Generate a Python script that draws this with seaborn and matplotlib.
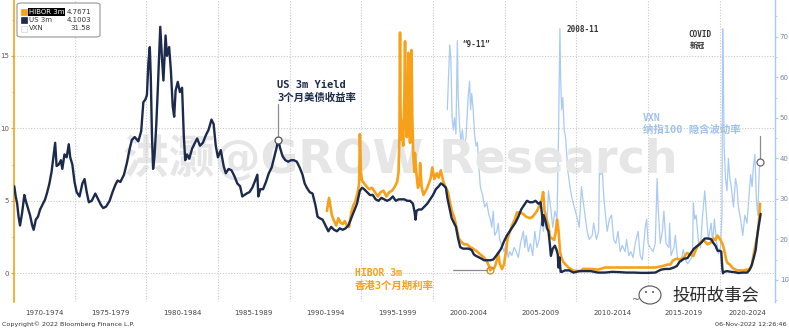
import numpy as np
import pandas as pd
import matplotlib
matplotlib.use("Agg")
import matplotlib.pyplot as plt
import seaborn as sns
from matplotlib.patches import FancyBboxPatch, Rectangle, Ellipse
from matplotlib.ticker import FixedLocator, MultipleLocator, NullFormatter

# ---------------- data ----------------
us_t = [1970.80, 1970.90, 1971.00, 1971.10, 1971.20, 1971.35, 1971.50, 1971.60, 1971.75, 1971.90,
        1972.05, 1972.15, 1972.30, 1972.45, 1972.60, 1972.75, 1972.95, 1973.10, 1973.25, 1973.40,
        1973.55, 1973.65, 1973.75, 1973.90, 1974.05, 1974.15, 1974.30, 1974.45, 1974.60, 1974.70,
        1974.85, 1975.00, 1975.15, 1975.35, 1975.55, 1975.70, 1975.85, 1976.00, 1976.20, 1976.45,
        1976.65, 1976.85, 1977.00, 1977.20, 1977.45, 1977.65, 1977.85, 1978.00, 1978.20, 1978.45,
        1978.65, 1978.85, 1979.00, 1979.20, 1979.45, 1979.65, 1979.80, 1979.95, 1980.05, 1980.15,
        1980.25, 1980.32, 1980.40, 1980.48, 1980.58, 1980.70, 1980.80, 1980.90, 1980.98, 1981.10,
        1981.20, 1981.35, 1981.45, 1981.60, 1981.72, 1981.85, 1981.95, 1982.05, 1982.20, 1982.35,
        1982.50, 1982.62, 1982.72, 1982.85, 1983.00, 1983.20, 1983.40, 1983.55, 1983.75, 1983.95,
        1984.15, 1984.35, 1984.55, 1984.70, 1984.85, 1985.00, 1985.20, 1985.40, 1985.55, 1985.75,
        1985.95, 1986.15, 1986.35, 1986.55, 1986.70, 1986.85, 1987.00, 1987.20, 1987.40, 1987.60,
        1987.75, 1987.82, 1987.95, 1988.15, 1988.35, 1988.55, 1988.75, 1988.95, 1989.10, 1989.20,
        1989.35, 1989.50, 1989.70, 1989.90, 1990.10, 1990.30, 1990.50, 1990.70, 1990.90, 1991.05,
        1991.20, 1991.40, 1991.60, 1991.80, 1991.95, 1992.10, 1992.30, 1992.50, 1992.70, 1992.90,
        1993.10, 1993.30, 1993.50, 1993.70, 1993.90, 1994.10, 1994.30, 1994.50, 1994.70, 1994.90,
        1995.05, 1995.20, 1995.40, 1995.60, 1995.80, 1996.00, 1996.20, 1996.40, 1996.60, 1996.80,
        1997.00, 1997.20, 1997.40, 1997.60, 1997.80, 1998.00, 1998.20, 1998.40, 1998.60, 1998.72,
        1998.78, 1998.85, 1999.00, 1999.20, 1999.40, 1999.60, 1999.80, 2000.00, 2000.20, 2000.40,
        2000.55, 2000.70, 2000.90, 2001.00, 2001.15, 2001.30, 2001.45, 2001.60, 2001.75, 2001.90,
        2002.10, 2002.30, 2002.50, 2002.70, 2002.85, 2003.00, 2003.20, 2003.40, 2003.55, 2003.75,
        2004.00, 2004.20, 2004.40, 2004.55, 2004.75, 2004.95, 2005.15, 2005.35, 2005.55, 2005.75,
        2005.95, 2006.15, 2006.35, 2006.55, 2006.75, 2006.95, 2007.15, 2007.35, 2007.50, 2007.60,
        2007.65, 2007.72, 2007.85, 2007.95, 2008.05, 2008.15, 2008.22, 2008.35, 2008.50, 2008.62,
        2008.70, 2008.75, 2008.82, 2008.90, 2009.00, 2009.20, 2009.50, 2009.80, 2010.20, 2010.60,
        2011.00, 2011.50, 2012.00, 2012.50, 2013.00, 2013.50, 2014.00, 2014.50, 2015.00, 2015.50,
        2015.90, 2016.20, 2016.50, 2016.80, 2017.00, 2017.20, 2017.50, 2017.75, 2017.95, 2018.20,
        2018.45, 2018.70, 2018.95, 2019.20, 2019.40, 2019.55, 2019.70, 2019.85, 2020.00, 2020.10,
        2020.18, 2020.22, 2020.30, 2020.50, 2020.80, 2021.00, 2021.30, 2021.60, 2021.90, 2022.05,
        2022.20, 2022.35, 2022.50, 2022.60, 2022.70, 2022.85]
us_v = [6.0, 5.3, 4.8, 3.9, 3.3, 4.2, 5.4, 5.0, 4.5, 4.0,
        3.3, 3.0, 3.7, 3.9, 4.4, 4.7, 5.1, 5.6, 6.2, 7.0,
        8.2, 9.0, 7.4, 7.5, 7.8, 7.2, 8.2, 8.0, 8.9, 8.0,
        7.5, 6.3, 5.6, 5.3, 6.2, 6.5, 5.6, 4.9, 5.0, 5.5,
        5.1, 4.7, 4.5, 4.6, 5.0, 5.6, 6.1, 6.4, 6.3, 6.8,
        7.6, 8.6, 9.2, 9.4, 9.1, 9.8, 11.8, 12.0, 12.3, 14.5,
        15.6, 13.5, 9.5, 7.2, 8.1, 10.2, 12.5, 15.0, 17.0, 14.8,
        13.3, 16.4, 15.0, 15.6, 14.0, 11.5, 10.8, 12.6, 13.2, 12.5,
        12.8, 9.5, 7.8, 8.2, 7.9, 8.6, 9.0, 9.3, 8.8, 9.0,
        9.5, 9.9, 10.6, 10.3, 8.8, 8.0, 8.5, 7.4, 6.9, 7.2,
        7.1, 6.7, 6.2, 6.0, 5.3, 5.4, 5.5, 5.6, 5.9, 6.4,
        6.8, 5.3, 5.8, 5.8, 6.3, 6.9, 7.3, 8.1, 8.7, 9.2,
        8.6, 8.1, 7.8, 7.7, 7.8, 7.8, 7.7, 7.3, 6.8, 6.2,
        5.9, 5.6, 5.5, 4.7, 3.9, 3.8, 3.7, 3.3, 2.9, 3.2,
        3.0, 2.9, 3.1, 3.0, 3.1, 3.3, 3.8, 4.3, 4.8, 5.7,
        5.9, 5.8, 5.6, 5.4, 5.4, 5.1, 5.0, 5.2, 5.1, 5.0,
        5.1, 5.3, 5.0, 5.1, 5.1, 5.1, 5.0, 5.0, 4.8, 4.2,
        3.7, 4.3, 4.4, 4.4, 4.6, 4.8, 5.1, 5.4, 5.8, 6.0,
        6.2, 6.1, 5.9, 5.2, 4.5, 3.8, 3.5, 3.2, 2.4, 1.8,
        1.7, 1.7, 1.7, 1.6, 1.3, 1.2, 1.1, 1.0, 0.9, 0.9,
        0.9, 0.95, 1.2, 1.4, 1.7, 2.2, 2.6, 2.9, 3.2, 3.5,
        3.9, 4.4, 4.7, 5.0, 4.9, 4.9, 5.0, 4.8, 4.9, 4.1,
        3.3, 4.0, 3.6, 3.1, 2.9, 2.0, 1.2, 1.7, 1.9, 1.6,
        1.3, 0.4, 1.1, 0.1, 0.1, 0.2, 0.2, 0.05, 0.15, 0.15,
        0.15, 0.05, 0.05, 0.1, 0.08, 0.05, 0.05, 0.03, 0.03, 0.05,
        0.25, 0.3, 0.3, 0.4, 0.5, 0.8, 1.0, 1.05, 1.35, 1.7,
        1.9, 2.1, 2.4, 2.4, 2.35, 2.1, 1.9, 1.55, 1.55, 1.5,
        0.3, 0.0, 0.1, 0.15, 0.1, 0.08, 0.02, 0.05, 0.05, 0.2,
        0.5, 1.0, 1.6, 2.5, 3.2, 4.1]

hib_t = [1992.60, 1992.75, 1992.85, 1992.95, 1993.10, 1993.25, 1993.40, 1993.55, 1993.70, 1993.85,
         1994.00, 1994.15, 1994.30, 1994.45, 1994.60, 1994.75, 1994.85, 1994.90, 1994.97, 1995.05,
         1995.20, 1995.35, 1995.55, 1995.75, 1995.95, 1996.15, 1996.35, 1996.55, 1996.75, 1996.95,
         1997.15, 1997.35, 1997.50, 1997.60, 1997.66, 1997.70, 1997.74, 1997.80, 1997.85, 1997.92,
         1998.00, 1998.05, 1998.10, 1998.17, 1998.24, 1998.28, 1998.33, 1998.40, 1998.45, 1998.50,
         1998.55, 1998.62, 1998.70, 1998.74, 1998.85, 1998.95, 1999.05, 1999.10, 1999.20, 1999.33,
         1999.45, 1999.60, 1999.75, 1999.85, 1999.95, 2000.10, 2000.26, 2000.40, 2000.55, 2000.72,
         2000.90, 2001.05, 2001.20, 2001.35, 2001.50, 2001.67, 2001.80, 2001.95, 2002.15, 2002.37,
         2002.60, 2002.80, 2003.07, 2003.30, 2003.55, 2003.77, 2003.90, 2003.98, 2004.10, 2004.30,
         2004.45, 2004.53, 2004.65, 2004.81, 2004.95, 2005.10, 2005.20, 2005.37, 2005.55, 2005.70,
         2005.86, 2006.05, 2006.28, 2006.50, 2006.77, 2006.95, 2007.10, 2007.26, 2007.47, 2007.60,
         2007.68, 2007.78, 2007.90, 2008.05, 2008.16, 2008.30, 2008.45, 2008.55, 2008.65, 2008.75,
         2008.86, 2008.95, 2009.07, 2009.25, 2009.45, 2009.76, 2010.00, 2010.30, 2010.46, 2010.70,
         2011.00, 2011.50, 2012.00, 2012.50, 2013.00, 2013.95, 2014.50, 2015.00, 2015.50, 2016.04,
         2016.32, 2016.55, 2016.74, 2017.00, 2017.23, 2017.50, 2017.71, 2017.92, 2018.15, 2018.41,
         2018.62, 2018.86, 2019.14, 2019.35, 2019.56, 2019.70, 2019.84, 2020.05, 2020.20, 2020.26,
         2020.35, 2020.45, 2020.55, 2020.70, 2020.92, 2021.20, 2021.62, 2021.90, 2022.11, 2022.25,
         2022.32, 2022.46, 2022.60, 2022.72, 2022.81]
hib_v = [4.3, 5.2, 4.6, 4.0, 3.6, 3.3, 3.8, 3.5, 3.4, 3.6,
         3.3, 3.2, 4.2, 4.7, 5.0, 5.6, 6.2, 9.6, 7.0, 6.4,
         6.2, 6.0, 5.8, 5.9, 5.6, 5.3, 5.6, 5.7, 5.3, 5.6,
         5.7, 6.0, 6.3, 7.0, 9.5, 16.6, 11.0, 9.2, 10.5, 8.8,
         12.0, 16.0, 10.5, 9.4, 12.5, 15.2, 10.0, 9.0, 11.5, 15.4,
         11.0, 8.2, 7.0, 8.3, 6.8, 5.9, 6.2, 7.6, 6.0, 5.4,
         5.6, 5.9, 6.3, 6.6, 7.3, 6.5, 6.9, 6.6, 7.1, 6.3,
         5.9, 5.6, 4.8, 4.2, 3.8, 3.0, 2.4, 2.2, 2.0, 2.0,
         1.8, 1.7, 1.5, 1.3, 1.1, 0.8, 0.5, 0.2, 0.3, 0.4,
         0.9, 1.4, 0.7, 0.3, 0.6, 1.6, 2.4, 2.9, 3.4, 3.7,
         4.2, 4.2, 4.1, 3.9, 3.8, 3.9, 4.1, 4.3, 4.8, 5.1,
         5.6, 4.3, 3.8, 3.3, 2.5, 2.4, 2.3, 2.8, 3.7, 3.0,
         1.5, 1.1, 0.8, 0.6, 0.4, 0.2, 0.15, 0.15, 0.3, 0.3,
         0.3, 0.25, 0.4, 0.4, 0.4, 0.4, 0.4, 0.4, 0.4, 0.5,
         0.6, 0.6, 0.9, 1.0, 0.95, 1.1, 1.4, 1.3, 1.2, 1.8,
         2.1, 2.3, 2.0, 2.1, 2.4, 2.3, 2.6, 2.3, 2.0, 1.8,
         1.4, 0.9, 0.7, 0.6, 0.35, 0.2, 0.2, 0.25, 0.3, 0.6,
         1.1, 1.8, 2.5, 3.4, 4.8]

vxn_t = [2001.00, 2001.08, 2001.17, 2001.25, 2001.33, 2001.42, 2001.50, 2001.60, 2001.70, 2001.75,
         2001.85, 2001.95, 2002.05, 2002.15, 2002.30, 2002.45, 2002.55, 2002.62, 2002.70, 2002.80,
         2002.90, 2003.00, 2003.10, 2003.20, 2003.30, 2003.45, 2003.60, 2003.75, 2003.90, 2004.00,
         2004.10, 2004.20, 2004.30, 2004.45, 2004.55, 2004.65, 2004.80, 2004.95, 2005.10, 2005.25,
         2005.35, 2005.50, 2005.65, 2005.80, 2005.95, 2006.10, 2006.30, 2006.40, 2006.50, 2006.65,
         2006.80, 2006.95, 2007.10, 2007.25, 2007.40, 2007.60, 2007.70, 2007.85, 2007.95, 2008.05,
         2008.20, 2008.35, 2008.50, 2008.65, 2008.75, 2008.85, 2008.90, 2008.97, 2009.05, 2009.15,
         2009.25, 2009.40, 2009.55, 2009.70, 2009.85, 2010.00, 2010.20, 2010.35, 2010.45, 2010.60,
         2010.75, 2010.90, 2011.10, 2011.20, 2011.40, 2011.55, 2011.62, 2011.70, 2011.80, 2011.90,
         2012.00, 2012.15, 2012.30, 2012.45, 2012.60, 2012.75, 2012.90, 2013.05, 2013.20, 2013.40,
         2013.50, 2013.65, 2013.80, 2013.95, 2014.10, 2014.30, 2014.45, 2014.60, 2014.80, 2014.90,
         2015.00, 2015.15, 2015.35, 2015.50, 2015.63, 2015.70, 2015.85, 2016.00, 2016.10, 2016.25,
         2016.45, 2016.50, 2016.60, 2016.80, 2016.90, 2017.05, 2017.30, 2017.45, 2017.60, 2017.75,
         2017.95, 2018.10, 2018.15, 2018.25, 2018.35, 2018.50, 2018.65, 2018.80, 2018.95, 2019.05,
         2019.20, 2019.40, 2019.50, 2019.62, 2019.75, 2019.90, 2020.05, 2020.15, 2020.20, 2020.25,
         2020.30, 2020.40, 2020.50, 2020.60, 2020.70, 2020.80, 2020.95, 2021.10, 2021.20, 2021.30,
         2021.45, 2021.60, 2021.75, 2021.90, 2022.00, 2022.15, 2022.25, 2022.35, 2022.45, 2022.55,
         2022.65, 2022.75, 2022.81]
vxn_v = [52, 60, 68, 64, 50, 47, 50, 46, 69, 56,
         48, 44, 47, 43, 45, 55, 59, 52, 56, 52,
         46, 43, 44, 38, 33, 31, 28, 29, 26, 25,
         23, 27, 21, 22, 24, 20, 18.5, 17, 19, 15.5,
         17, 16, 18, 17, 15.5, 19, 22, 18, 21, 17,
         19, 16, 22, 18, 20, 26, 22, 27, 24, 32,
         28, 23, 27, 25, 45, 72, 60, 52, 55, 47,
         45, 37, 33, 30, 28, 26, 23, 33, 30, 26,
         22, 20, 21, 24, 20, 22, 41, 36, 38, 31,
         27, 22, 25, 26, 20, 19, 22, 17, 18.5, 17,
         20, 16, 17, 15.5, 19, 22, 16, 15, 23, 25,
         19, 18, 17, 19, 35, 28, 19, 22, 27, 19,
         18, 24, 16, 18, 21, 15.5, 14.5, 17.5, 15, 14,
         15, 16, 29, 25, 26, 20, 18, 26, 32, 27,
         20, 24, 19, 25, 20, 16.5, 18, 26, 72, 60,
         43, 35, 32, 40, 35, 33, 28, 35, 33, 28,
         25, 21, 26, 24, 29, 36, 33, 38, 41, 30,
         26, 37, 39]

period_labels = ["1970-1974", "1975-1979", "1980-1984", "1985-1989", "1990-1994",
                 "1995-1999", "2000-2004", "2005-2009", "2010-2014", "2015-2019", "2020-2024"]
period_label_pos = [1972.87, 1977.5, 1982.5, 1987.5, 1992.5, 1997.5, 2002.5, 2007.5,
                    2012.5, 2017.5, 2021.93]
period_bounds = [1975, 1980, 1985, 1990, 1995, 2000, 2005, 2010, 2015, 2020]

us_df = pd.DataFrame({"t": us_t, "v": us_v})
hib_df = pd.DataFrame({"t": hib_t, "v": hib_v})
vxn_df = pd.DataFrame({"t": vxn_t, "v": vxn_v})

# ---------------- style ----------------
ORANGE = "#f7a11a"
NAVY = "#1c2a4c"
LBLUE = "#a9caf3"
GRID = "#c9c9c9"
GRAYTXT = "#5a5a5a"

sns.set_theme(style="white")
plt.rcParams['font.family'] = ['DejaVu Sans', 'Noto Sans CJK SC']
MONO = ['DejaVu Sans Mono', 'Noto Sans CJK SC']

W, H = 789, 330
fig = plt.figure(figsize=(W / 100, H / 100), dpi=100)
fig.patch.set_facecolor("white")

def fx(px):
    return px / W

def fy(py):
    return 1 - py / H

ax = fig.add_axes([fx(14), fy(302), (775 - 14) / W, 302 / H])
ax2 = ax.twinx()
ax.set_zorder(ax2.get_zorder() + 1)
ax.patch.set_visible(False)

# VXN (right axis)
sns.lineplot(data=vxn_df, x="t", y="v", ax=ax2, color=LBLUE, lw=0.9,
             estimator=None, sort=False, legend=False)
# HIBOR + US 3m (left axis)
sns.lineplot(data=hib_df, x="t", y="v", ax=ax, color=ORANGE, lw=1.9,
             estimator=None, sort=False, legend=False, zorder=3)
sns.lineplot(data=us_df, x="t", y="v", ax=ax, color=NAVY, lw=1.7,
             estimator=None, sort=False, legend=False, zorder=4)

ax.set_xlim(1970.78, 2023.85)
ax.set_ylim(-1.98, 18.85)
ax2.set_ylim(4.57, 79.05)
ax.set_xlabel("")
ax.set_ylabel("")
ax2.set_xlabel("")
ax2.set_ylabel("")

# grid / ticks
ax.xaxis.set_major_locator(FixedLocator(period_bounds))
ax.xaxis.set_major_formatter(NullFormatter())
ax.xaxis.set_minor_locator(FixedLocator(period_label_pos))
ax.set_xticklabels(period_labels, minor=True)
ax.tick_params(axis="x", which="both", length=0, pad=6, labelsize=5, labelcolor="#444")
ax.set_yticks([0, 5, 10, 15])
ax.yaxis.set_minor_locator(MultipleLocator(2.5))
ax.tick_params(axis="y", which="major", length=2.5, width=0.8, color=ORANGE,
               labelsize=5, labelcolor=GRAYTXT, pad=1.0, left=True)
ax.tick_params(axis="y", which="minor", length=1.6, width=0.6, color=ORANGE, left=True)
ax.grid(True, which="major", axis="both", color=GRID, linestyle=(0, (1, 1.5)), linewidth=0.8)

ax2.set_yticks([10, 20, 30, 40, 50, 60, 70])
ax2.yaxis.set_minor_locator(MultipleLocator(5))
ax2.tick_params(axis="y", which="major", length=2.5, width=0.8, color=LBLUE,
                labelsize=5, labelcolor="#7189ad", pad=1.0, right=True)
ax2.tick_params(axis="y", which="minor", length=1.6, width=0.6, color=LBLUE, right=True)
ax2.grid(False)

for s in ["top", "bottom", "right"]:
    ax.spines[s].set_visible(False)
ax.spines["left"].set_color(ORANGE)
ax.spines["left"].set_linewidth(1.2)
for s in ["top", "bottom", "left"]:
    ax2.spines[s].set_visible(False)
ax2.spines["right"].set_color(LBLUE)
ax2.spines["right"].set_linewidth(1.0)

# ---------------- annotations ----------------
LEAD = "#8c8c99"
us_arr_t = np.array(us_t); us_arr_v = np.array(us_v)
win = (us_arr_t > 1988.5) & (us_arr_t < 1990)
i_us = np.argmax(np.where(win, us_arr_v, -1))
ax.plot([us_t[i_us], us_t[i_us]], [us_v[i_us] + 0.25, 11.7], color=LEAD, lw=0.9, zorder=5)
ax.plot(us_t[i_us], us_v[i_us], marker="o", ms=5, mfc="white", mec="#555", mew=0.9, zorder=6)
ax.text(us_t[i_us] - 0.05, 13.0, "US 3m Yield", family=MONO, fontsize=7.5, fontweight="bold",
        color=NAVY, ha="left", va="center", zorder=6)
ax.text(us_t[i_us] - 0.05, 12.1, "3个月美债收益率", family=MONO, fontsize=7.5, fontweight="bold",
        color=NAVY, ha="left", va="center", zorder=6)

hb_t = np.array(hib_t); hb_v = np.array(hib_v)
win = (hb_t > 2003.5) & (hb_t < 2004.5)
i_hb = np.argmin(np.where(win, hb_v, 99))
ax.plot([2001.4, hib_t[i_hb] - 0.2], [hib_v[i_hb], hib_v[i_hb]], color=LEAD, lw=0.9, zorder=5)
ax.plot(hib_t[i_hb], hib_v[i_hb], marker="o", ms=5, mfc="none", mec="#c98a2a", mew=0.9, zorder=6)
ax.text(1994.56, 0.0, "HIBOR 3m", family=MONO, fontsize=7, fontweight="bold",
        color=ORANGE, ha="left", va="center", zorder=6)
ax.text(1994.56, -0.9, "香港3个月期利率", family=MONO, fontsize=7.5, fontweight="bold",
        color=ORANGE, ha="left", va="center", zorder=6)

ax2.plot([vxn_t[-1], vxn_t[-1]], [vxn_v[-1] + 0.8, 45.5], color=LEAD, lw=0.9, zorder=5)
ax2.plot(vxn_t[-1], vxn_v[-1], marker="o", ms=5, mfc="white", mec="#666", mew=0.9, zorder=6)
ax2.text(2014.65, 50.0, "VXN", family=MONO, fontsize=7, fontweight="bold",
         color="#9dc2f0", ha="left", va="center")
ax2.text(2014.65, 47.0, "纳指100 隐含波动率", family=MONO, fontsize=7.5, fontweight="bold",
         color="#9dc2f0", ha="left", va="center")

ax.text(2002.02, 15.75, "\u201c9-11\u201d", family=MONO, fontsize=5.5, fontweight="bold",
        color="#333333", ha="left", va="center", zorder=6)
ax.text(2009.34, 16.8, "2008-11", family=MONO, fontsize=5.5, fontweight="bold",
        color="#333333", ha="left", va="center", zorder=6)
ax.text(2017.78, 16.45, "COVID", family=MONO, fontsize=5.5, fontweight="bold",
        color="#333333", ha="left", va="center", zorder=6)
ax.text(2017.9, 15.7, "新冠", family=['Noto Sans CJK SC', 'DejaVu Sans'], fontsize=5.5,
        fontweight="bold", color="#333333", ha="left", va="center", zorder=6)

# watermark
fig.text(fx(400), fy(160), "洪灏@GROW Research", fontsize=33, fontweight="bold",
         color="#e6e6e6", ha="center", va="center", zorder=0.5,
         family=['DejaVu Sans', 'Noto Sans CJK SC'])

# ---------------- legend box ----------------
box = FancyBboxPatch((fx(17), fy(37)), fx(100) - fx(17), fy(3) - fy(37),
                     boxstyle="round,pad=0,rounding_size=0.006", transform=fig.transFigure,
                     facecolor="white", edgecolor="#9a9a9a", lw=0.9, alpha=0.92, zorder=10)
fig.patches.append(box)
rows = [("HIBOR 3m", "4.7671", ORANGE, 12), ("US 3m", "4.1003", NAVY, 20), ("VXN", "31.58", "white", 28.5)]
for name, val, col, py in rows:
    sq = Rectangle((fx(21), fy(py + 3)), fx(6), fy(0) - fy(6), transform=fig.transFigure,
                   facecolor=col, edgecolor="#cfd8e6" if col == "white" else col, lw=0.5, zorder=11)
    fig.patches.append(sq)
    if name == "HIBOR 3m":
        fig.text(fx(29), fy(py), name, fontsize=5, color="white", ha="left", va="center", zorder=12,
                 bbox=dict(facecolor="black", edgecolor="none", pad=0.6))
    else:
        fig.text(fx(29), fy(py), name, fontsize=5, color="#333", ha="left", va="center", zorder=12)
    fig.text(fx(91), fy(py), val, fontsize=5, color="#333", ha="right", va="center", zorder=12)

# ---------------- footer ----------------
fig.text(fx(2), fy(324), "Copyright\u00a9 2022 Bloomberg Finance L.P.", fontsize=4.6,
         color="#333", ha="left", va="center")
fig.text(fx(787), fy(324), "06-Nov-2022 12:26:46", fontsize=4.6, color="#333",
         ha="right", va="center")
fig.text(fx(716), fy(296), "投研故事会", fontsize=12.5, color="#2b2b2b", ha="center", va="center",
         family=['Noto Sans CJK SC', 'DejaVu Sans'])
# simple WeChat-like icon
icon = Ellipse((fx(650), fy(295)), fx(22), fy(0) - fy(18), transform=fig.transFigure,
               facecolor="white", edgecolor="#555", lw=0.8, zorder=5)
fig.patches.append(icon)
fig.patches.append(Ellipse((fx(646), fy(292)), fx(2), fy(0) - fy(2), transform=fig.transFigure,
                           facecolor="#555", edgecolor="none", zorder=6))
fig.patches.append(Ellipse((fx(653), fy(292)), fx(2), fy(0) - fy(2), transform=fig.transFigure,
                           facecolor="#555", edgecolor="none", zorder=6))
fig.text(fx(636), fy(300), "~", fontsize=7, color="#555", ha="center", va="center")

fig.savefig("out.png", dpi=100, facecolor="white")
